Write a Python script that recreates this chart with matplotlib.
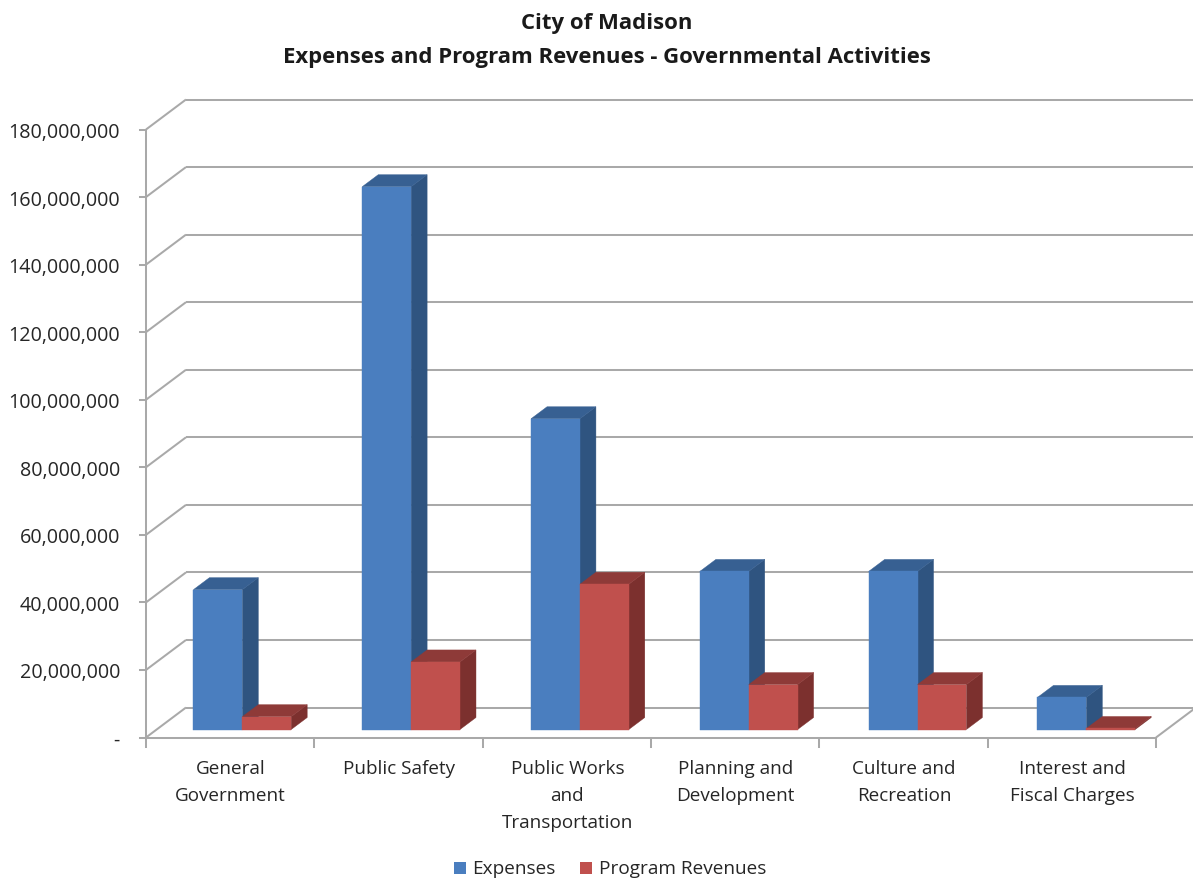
import matplotlib
matplotlib.use("Agg")
import matplotlib.pyplot as plt
from matplotlib.patches import Polygon, Rectangle
from matplotlib.transforms import Affine2D, IdentityTransform

categories = ["General\nGovernment", "Public Safety", "Public Works\nand\nTransportation",
              "Planning and\nDevelopment", "Culture and\nRecreation", "Interest and\nFiscal Charges"]
expenses = [41.4e6, 160.7e6, 92.0e6, 46.8e6, 46.8e6, 9.5e6]
revenues = [3.8e6, 20.0e6, 43.0e6, 13.3e6, 13.3e6, 0.3e6]
ticks = list(range(0, 180000001, 20000000))
tick_labels = ["-"] + [f"{t:,}" for t in ticks[1:]]
title_lines = "City of Madison\nExpenses and Program Revenues - Governmental Activities"

W, H = 1193, 879
FONT = "Open Sans"
TXT = "#262626"
GRID = "#a9a9a9"
BLUE, BLUE_TOP, BLUE_SIDE = "#4a7ebf", "#376092", "#2f5480"
RED, RED_TOP, RED_SIDE = "#c0504d", "#8e3a38", "#7c302e"

fig = plt.figure(figsize=(W / 100, H / 100), dpi=100, facecolor="white")
L, R, B, T = 146, 1156, 738.5, 130.5
ax = fig.add_axes([L / W, 1 - B / H, (R - L) / W, (B - T) / H])
ax.set_xlim(0, 6)
ax.set_ylim(0, 180e6)
ax.axis("off")

WALL_DX, WALL_DY = 40, 30        # wall depth, display px
BASE_DX, BASE_DY = 11.5, 8       # front of the bars relative to the front plane
BAR_DX, BAR_DY = 16, 12          # bar depth
BAR_W = 0.2895                   # bar width in category units
BAR_SX = 1.0028                  # slight perspective spread of the bar plane

front = ax.transData
wall = ax.transData + Affine2D().translate(WALL_DX, WALL_DY)
barf = ax.transData + Affine2D().scale(BAR_SX, 1).translate(BASE_DX, BASE_DY)
bark = ax.transData + Affine2D().scale(BAR_SX, 1).translate(BASE_DX + BAR_DX, BASE_DY + BAR_DY)


def seg(p, q, tp=front, tq=front):
    a = tp.transform(p)
    b = tq.transform(q)
    fig.add_artist(plt.Line2D([a[0] / W, b[0] / W], [a[1] / H, b[1] / H],
                              transform=fig.transFigure, color=GRID, lw=1.45,
                              solid_capstyle="butt", zorder=1))


# walls, gridlines, ticks
for t in ticks:
    seg((0, t), (0, t), front, wall)
    seg((0, t), (6, t), wall, wall)
    a = front.transform((0, t))
    fig.add_artist(plt.Line2D([(a[0] - 6) / W, a[0] / W], [a[1] / H, a[1] / H],
                              transform=fig.transFigure, color=GRID, lw=1.45))
seg((0, 0), (0, 180e6))
seg((0, 0), (6, 0))
seg((6, 0), (6, 0), front, wall)
for i in range(7):
    a = front.transform((i, 0))
    fig.add_artist(plt.Line2D([a[0] / W, a[0] / W], [a[1] / H, (a[1] - 9) / H],
                              transform=fig.transFigure, color=GRID, lw=1.45))


def bar3d(x0, x1, v, c, ctop, cside, z):
    def pts(seq):
        return [t.transform(p) for p, t in seq]
    top = pts([((x0, v), barf), ((x1, v), barf), ((x1, v), bark), ((x0, v), bark)])
    side = pts([((x1, 0), barf), ((x1, v), barf), ((x1, v), bark), ((x1, 0), bark)])
    face = pts([((x0, 0), barf), ((x1, 0), barf), ((x1, v), barf), ((x0, v), barf)])
    for poly, col in ((side, cside), (top, ctop), (face, c)):
        p = Polygon(poly, facecolor=col, edgecolor=col, linewidth=0.3, closed=True, zorder=z)
        p.set_transform(IdentityTransform())
        fig.add_artist(p)


for i in range(6):
    bar3d(i + 0.5 - BAR_W, i + 0.5, expenses[i], BLUE, BLUE_TOP, BLUE_SIDE, 3)
    bar3d(i + 0.5, i + 0.5 + BAR_W, revenues[i], RED, RED_TOP, RED_SIDE, 3)

for t, lab in zip(ticks, tick_labels):
    x, y = front.transform((0, t))
    fig.text((x - 26) / W, (y - 2.5) / H, lab, ha="right", va="center",
             fontsize=14.2, family=FONT, color=TXT)

for i, c in enumerate(categories):
    x, _ = front.transform((i + 0.5, 0))
    for j, line in enumerate(c.split("\n")):
        fig.text((x + 0.5) / W, 1 - (769 + j * 27) / H, line, ha="center", va="center",
                 fontsize=13.6, family=FONT, color=TXT)

for j, line in enumerate(title_lines.split("\n")):
    fig.text(606.5 / W, 1 - (23 + j * 34) / H, line, ha="center", va="center",
             fontsize=15.9, family=FONT, weight="bold", color="#1a1a1a")

# legend
fig.patches.append(Rectangle((454 / W, 1 - 875 / H), 12 / W, 12 / H, transform=fig.transFigure, fc=BLUE, ec="none"))
fig.patches.append(Rectangle((580 / W, 1 - 875 / H), 12 / W, 12 / H, transform=fig.transFigure, fc=RED, ec="none"))
fig.text(472 / W, 1 - 869.5 / H, "Expenses", ha="left", va="center", fontsize=13.7, family=FONT, color=TXT)
fig.text(599 / W, 1 - 869.5 / H, "Program Revenues", ha="left", va="center", fontsize=13.7, family=FONT, color=TXT)

fig.savefig("out.png", dpi=100)
